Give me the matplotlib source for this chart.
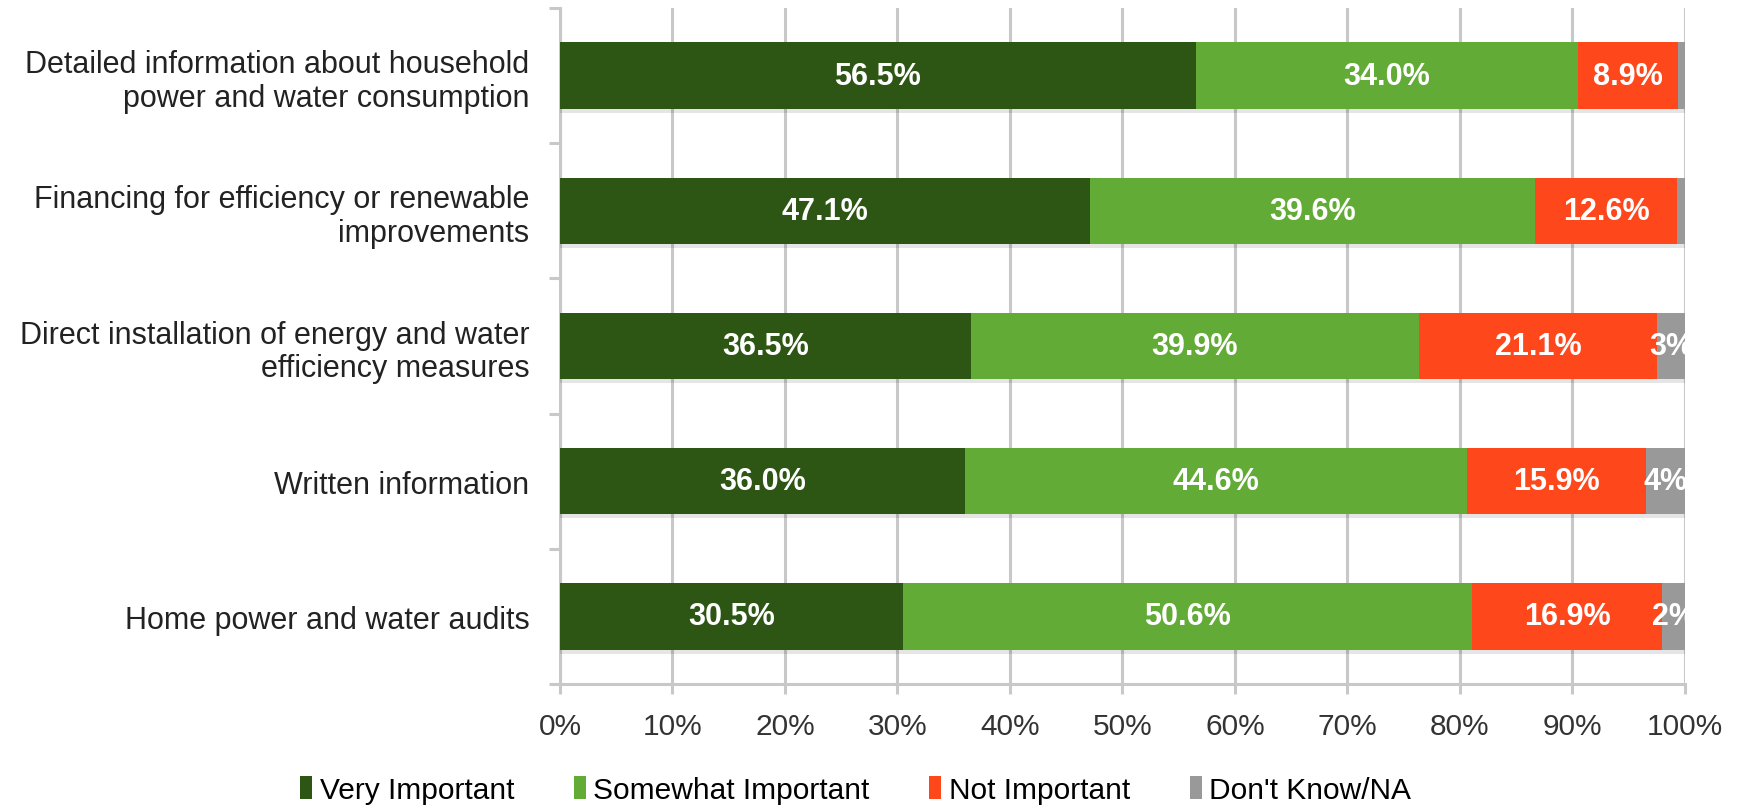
import matplotlib.pyplot as plt
import matplotlib.patheffects as pe
from matplotlib.patches import Patch
from matplotlib.ticker import FixedLocator, PercentFormatter
from matplotlib import font_manager

categories = [
    'Detailed information about household\npower and water consumption',
    'Financing for efficiency or renewable\nimprovements',
    'Direct installation of energy and water\nefficiency measures',
    'Written information',
    'Home power and water audits',
]
very = [56.5, 47.1, 36.5, 36.0, 30.5]
somewhat = [34.0, 39.6, 39.9, 44.6, 50.6]
not_imp = [8.9, 12.6, 21.1, 15.9, 16.9]
dont_know = [0.6, 0.7, 2.5, 3.5, 2.0]
dont_know_labels = ['', '', '3%', '4%', '2%']

series = ['Very Important', 'Somewhat Important', 'Not Important', "Don't Know/NA"]
colors = ['#2d5614', '#62ab37', '#ff471c', '#999999']

plt.rcParams['font.family'] = ['Liberation Sans', 'DejaVu Sans']

fig = plt.figure(figsize=(17.46, 8.12), dpi=100)
ax = fig.add_axes([0.3207, 0.1564, 0.6443, 0.8325])

grid_c = '#c8c8c8'
ys = list(range(len(categories)))
left = [0.0] * len(categories)
shadow = [pe.SimplePatchShadow(offset=(0, -3), shadow_rgbFace='#000000', alpha=0.1), pe.Normal()]
for vals, col in zip([very, somewhat, not_imp, dont_know], colors):
    bars = ax.barh(ys, vals, left=left, height=0.49, color=col, zorder=3, linewidth=0)
    for b in bars:
        b.set_path_effects(shadow)
    left = [l + v for l, v in zip(left, vals)]

# value labels
for i in ys:
    start = 0.0
    for vals in [very, somewhat, not_imp]:
        ax.text(start + vals[i] / 2, i, '%.1f%%' % vals[i], ha='center', va='center',
                color='white', fontsize=22, fontweight='bold', zorder=5)
        start += vals[i]
    if dont_know_labels[i]:
        ax.text(start + dont_know[i] / 2, i, dont_know_labels[i], ha='center', va='center',
                color='white', fontsize=22, fontweight='bold', zorder=5, clip_on=True)

ax.set_xlim(0, 100)
ax.set_ylim(len(categories) - 0.5, -0.5)
ax.xaxis.set_major_locator(FixedLocator(range(0, 101, 10)))
ax.xaxis.set_major_formatter(PercentFormatter(decimals=0))
ax.grid(axis='x', color=grid_c, linewidth=2.2, zorder=0)
ax.set_axisbelow(True)

ax.set_yticks(ys)
ax.set_yticklabels(categories, fontsize=22, color='#222222')
for t in ax.get_yticklabels():
    t.set_linespacing(1.15)
ax.yaxis.set_minor_locator(FixedLocator([y - 0.5 for y in ys] + [len(ys) - 0.5]))
ax.tick_params(axis='y', which='major', length=0, pad=22)
ax.tick_params(axis='y', which='minor', length=8, width=2.2, color=grid_c)
ax.tick_params(axis='x', length=7, width=2.2, color=grid_c, labelsize=21.5,
               labelcolor='#333333', pad=13)

for s in ['top', 'right']:
    ax.spines[s].set_visible(False)
for s in ['left', 'bottom']:
    ax.spines[s].set_color(grid_c)
    ax.spines[s].set_linewidth(2.2)

names = set(f.name for f in font_manager.fontManager.ttflist)
if 'Liberation Sans Narrow' in names:
    leg_prop = {'family': 'Liberation Sans Narrow', 'size': 26}
else:
    leg_prop = {'family': 'Liberation Sans', 'size': 21.5}
handles = [Patch(facecolor=c, edgecolor='none') for c in colors]
fig.legend(handles, series, loc='center', bbox_to_anchor=(0.49, 0.026), ncol=4,
           frameon=False, prop=leg_prop,
           handlelength=0.4, handleheight=0.8, handletextpad=0.25, columnspacing=2.0)

fig.savefig('out.png', dpi=100)
